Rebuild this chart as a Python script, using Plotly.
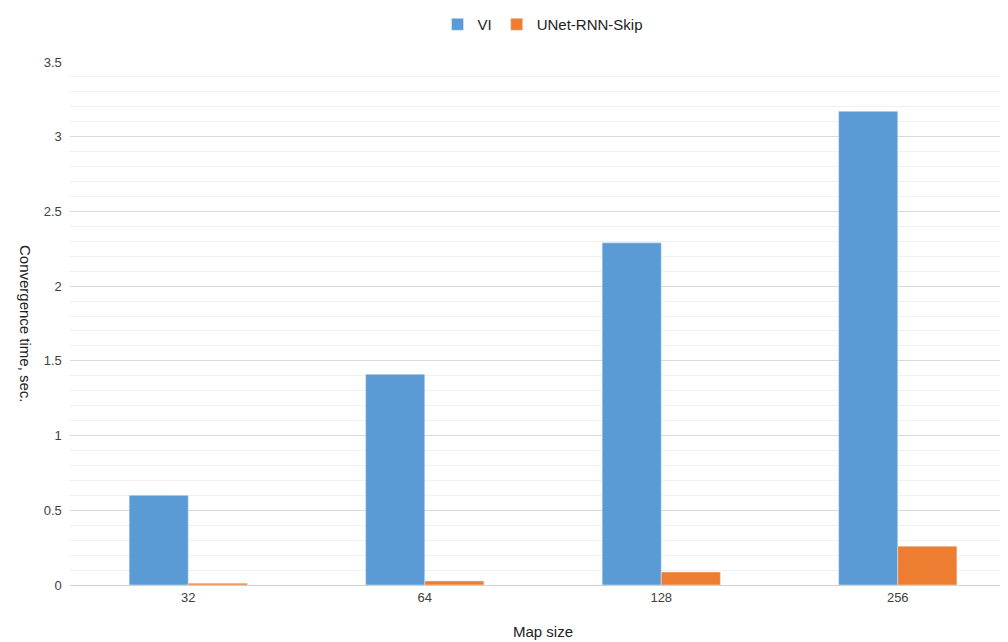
import plotly.graph_objects as go

map_sizes = ["32", "64", "128", "256"]
vi_times = [0.60, 1.41, 2.29, 3.17]
unet_times = [0.012, 0.027, 0.087, 0.26]

fig = go.Figure()
fig.add_trace(go.Bar(x=map_sizes, y=vi_times, name="VI", marker_color="#5b9bd5"))
fig.add_trace(go.Bar(x=map_sizes, y=unet_times, name="UNet-RNN-Skip", marker_color="#ed7d31"))

fig.update_layout(
    width=1008, height=642,
    margin=dict(l=62, r=0, t=52, b=65),
    plot_bgcolor="white", paper_bgcolor="white",
    barmode="group", bargap=0.5, bargroupgap=0,
    font=dict(family="Liberation Sans, Arial", size=14, color="#404040"),
    legend=dict(orientation="h", x=0.5, xanchor="center", y=1.04, yanchor="bottom",
                font=dict(size=15, color="#222")),
    showlegend=True,
)
fig.update_xaxes(showline=True, linecolor="#d0d0d0", ticks="", tickfont=dict(size=13),
                 automargin=False,
                 title=dict(text="Map size", font=dict(size=15, color="#222"), standoff=22))
fig.update_yaxes(range=[0, 3.5], dtick=0.5, gridcolor="#d9d9d9", zeroline=False,
                 tickfont=dict(size=13), ticksuffix="  ", automargin=False,
                 minor=dict(dtick=0.1, showgrid=True, gridcolor="#f0f0f0"))
fig.add_annotation(text="Convergence time, sec.", textangle=90, x=-0.047, xref="paper",
                   xanchor="center", y=0.5, yref="paper", showarrow=False,
                   font=dict(size=15, color="#222"))
fig.write_html("out.html")
